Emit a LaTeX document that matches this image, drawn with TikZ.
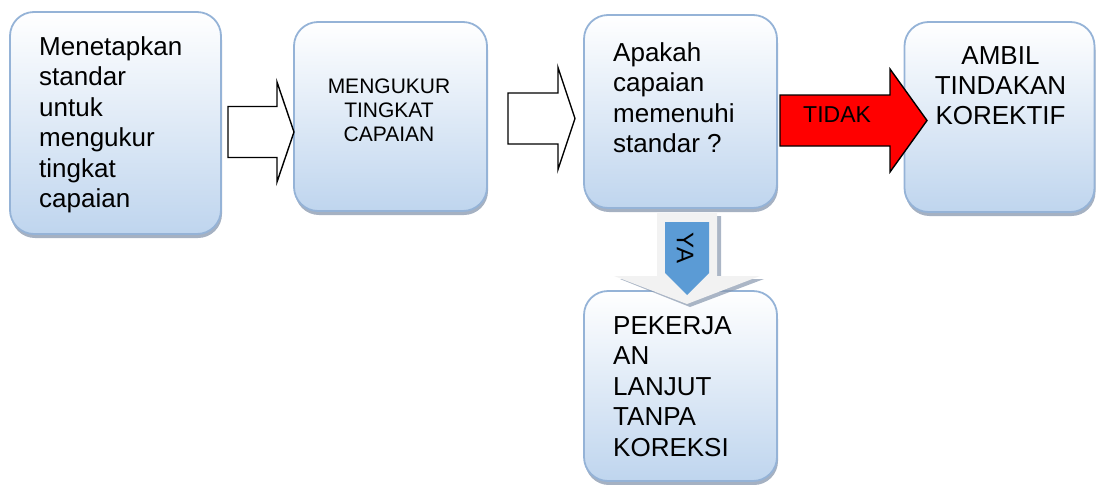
\documentclass[tikz,border=0pt]{standalone}
\usepackage{fontspec}
\setmainfont{Liberation Sans}
\usetikzlibrary{shadows}

\definecolor{boxline}{HTML}{95B3D7}
\definecolor{boxbot}{HTML}{BFD5EE}
\definecolor{boxshade}{HTML}{8797AE}
\definecolor{yablue}{HTML}{5B9BD5}
\definecolor{yapale}{HTML}{F2F2F2}

% right-pointing block arrow: tail x, head-base x, tip x, mid y, shaft half-width, head half-width
\newcommand\blockarrowright[7][]{%
  \draw[#1] (#2,#5-#6) -- (#3,#5-#6) -- (#3,#5-#7) -- (#4,#5)
    -- (#3,#5+#7) -- (#3,#5+#6) -- (#2,#5+#6) -- cycle;}

\tikzset{
  stepbox/.style 2 args={draw=boxline, line width=1.8pt, rounded corners=24pt,
    top color=white, bottom color=boxbot, inner sep=0pt,
    minimum width=#1, minimum height=#2,
    drop shadow={shadow xshift=1pt, shadow yshift=-4pt, fill=boxshade, opacity=0.75}},
  bigtext/.style={inner sep=0pt, font=\fontsize{26}{30.4}\selectfont},
  smalltext/.style={inner sep=0pt, font=\fontsize{21}{24}\selectfont},
  hollow/.style={draw=black, line width=1.4pt, fill=white, line join=miter},
  redarrow/.style={draw=black, line width=1.4pt, fill=red, line join=miter},
}

\begin{document}
\begin{tikzpicture}[x=1pt, y=-1pt]
  \useasboundingbox (0,0) rectangle (1096,485);

  % process boxes
  \node[stepbox={211pt}{222pt}] (b1) at (115.5,123) {};
  \node[stepbox={193pt}{189pt}] (b2) at (390.5,116.5) {};
  \node[stepbox={193pt}{193pt}] (b3) at (680.5,111.5) {};
  \node[stepbox={190pt}{190pt}] (b4) at (999.5,117) {};
  \node[stepbox={193pt}{190pt}] (b5) at (680.5,386) {};

  % box texts
  \node[bigtext, anchor=north west, align=left] (t1) at (39,36.4)
    {Menetapkan\\standar\\untuk\\mengukur\\tingkat\\capaian};
  \node[smalltext, anchor=north, align=center] (t2) at (389,79)
    {MENGUKUR\\TINGKAT\\CAPAIAN};
  \node[bigtext, anchor=north west, align=left] (t3) at (613,42.4)
    {Apakah\\capaian\\memenuhi\\standar ?};
  \node[bigtext, anchor=north, align=center] (t4) at (1000.5,46)
    {AMBIL\\TINDAKAN\\KOREKTIF};
  \node[bigtext, anchor=north west, align=left] (t5) at (613,316.4)
    {PEKERJA\\AN\\LANJUT\\TANPA\\KOREKSI};

  % hollow arrows between the first three steps
  \blockarrowright[hollow]{228}{277}{294}{132}{25.5}{50}
  \blockarrowright[hollow]{508}{558}{575}{118.5}{25.5}{51}

  % "TIDAK" branch
  \blockarrowright[redarrow]{780}{890}{927}{120.5}{25.5}{51.5}
  \node[inner sep=0pt, font=\fontsize{23}{26}\selectfont, anchor=base west] (tidak) at (803,122) {TIDAK};

  % "YA" branch: pale arrow with shadow and blue core
  \fill[boxshade, opacity=0.7] (660,216) -- (721,216) -- (721,279) -- (764,279)
    -- (690,307) -- (620,279) -- (660,279) -- cycle;
  \fill[yapale] (657,213) -- (717,213) -- (717,276) -- (760,276)
    -- (687,304) -- (614,276) -- (657,276) -- cycle;
  \fill[yablue] (665,222) -- (709,222) -- (709,273) -- (687,295) -- (665,273) -- cycle;
  \node[inner sep=0pt, font=\fontsize{24}{26}\selectfont, rotate=-90] (ya) at (685,248) {YA};
\end{tikzpicture}
\end{document}
